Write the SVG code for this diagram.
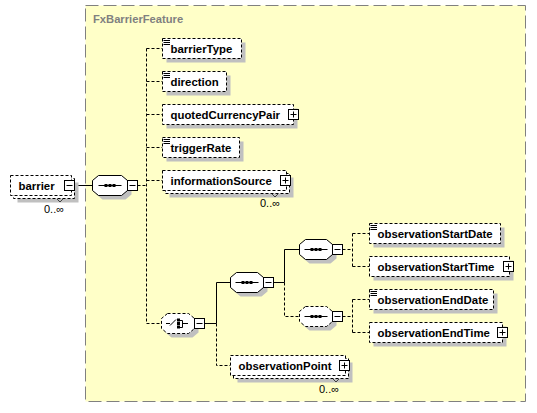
<svg xmlns="http://www.w3.org/2000/svg" width="537" height="413" viewBox="0 0 537 413">
<style>
.grp{fill:#ffffc8;stroke:#808080;stroke-width:1;stroke-dasharray:13 5}
.ttl{font-family:"Liberation Sans",Arial,sans-serif;font-weight:bold;font-size:11.2px;fill:#808080}
.el{fill:#fff;stroke:#000;stroke-dasharray:3 2}
.sh{fill:#c0c0c0}
.oct{fill:#fff;stroke:#000}
.octd{fill:#fff;stroke:#000;stroke-dasharray:3 2}
.pm{fill:#fff;stroke:#000}
.ln{fill:none;stroke:#000}
.t{font-family:"Liberation Sans",Arial,sans-serif;font-weight:bold;font-size:11.4px;fill:#000}
.occ{font-family:"Liberation Sans",Arial,sans-serif;font-size:11px;fill:#000}
.c{fill:none;stroke:#000}
.cd{fill:none;stroke:#000;stroke-dasharray:3 2}
.nt{fill:none;stroke:#404040}
.dot{fill:#000}
</style>
<defs>
<g id="minus"><rect class="pm" x="0" y="0" width="10" height="10"/><path class="ln" d="M2,5H8"/></g>
<g id="plus"><rect class="pm" x="0" y="0" width="10" height="10"/><path class="ln" d="M2,5H8M5,2V8"/></g>
<g id="simple"><rect x="0" y="0" width="7" height="7" fill="#fff"/><path class="ln" d="M0.5,1.5H7M0.5,3.5H7M0.5,5.5H7"/></g>
<g id="seqicon"><path class="ln" d="M0,0H23"/><rect class="dot" x="6" y="-1.5" width="3" height="3"/><rect class="dot" x="10" y="-1.5" width="3" height="3"/><rect class="dot" x="14" y="-1.5" width="3" height="3"/></g>
</defs>

<g id="FxBarrierFeature">
<rect class="grp" x="85.5" y="5.5" width="440" height="396"/>
<text class="ttl" x="93" y="23">FxBarrierFeature</text>
</g>

<g id="connectors">
<path class="c" d="M74.5,185.5H92.5"/>
<path class="cd" d="M137.5,185.5H146.5M146.5,48.5V323.5M146.5,48.5H162.5M146.5,81.5H162.5M146.5,114.5H162.5M146.5,147.5H162.5M146.5,180.5H162.5M146.5,323.5H161.5"/>
<path class="c" d="M204.5,323.5H216.5M216.5,282.5V323.5M216.5,282.5H230.5"/>
<path class="cd" d="M216.5,323.5V365.5H230.5"/>
<path class="c" d="M273.5,282.5H284.5M284.5,249.5V282.5M284.5,249.5H299.5"/>
<path class="cd" d="M284.5,282.5V316.5H299.5"/>
<path class="cd" d="M342.5,249.5H352.5M352.5,233.5V266.5M352.5,233.5H369.5M352.5,266.5H369.5"/>
<path class="cd" d="M342.5,316.5H352.5M352.5,299.5V332.5M352.5,299.5H369.5M352.5,332.5H369.5"/>
</g>

<g id="barrier">
<rect class="sh" x="17.5" y="182.5" width="61" height="20"/>
<rect class="el" x="13.5" y="178.5" width="61" height="20"/>
<rect class="el" x="10.5" y="175.5" width="61" height="20"/>
<text class="t" x="18.5" y="189.5">barrier</text>
<use href="#minus" x="64.5" y="180.5"/>
<path class="nt" d="M57,199L60,202L63,199"/>
<text class="occ" x="44" y="213">0..∞</text>
</g>

<g id="sequence1">
<path class="sh" d="M102.5,179.5H125.5L131.5,184.5V194.5L125.5,199.5H102.5L96.5,194.5V184.5Z"/>
<path class="oct" d="M98.5,175.5H121.5L127.5,180.5V190.5L121.5,195.5H98.5L92.5,190.5V180.5Z"/>
<use href="#seqicon" x="98.5" y="185.5"/>
<use href="#minus" x="127.5" y="180.5"/>
</g>

<g id="barrierType">
<rect class="sh" x="166.5" y="42.5" width="79" height="20"/>
<rect class="el" x="162.5" y="38.5" width="79" height="20"/>
<use href="#simple" x="163" y="39"/>
<text class="t" x="170.5" y="52.5">barrierType</text>
</g>

<g id="direction">
<rect class="sh" x="166.5" y="75.5" width="64" height="20"/>
<rect class="el" x="162.5" y="71.5" width="64" height="20"/>
<use href="#simple" x="163" y="72"/>
<text class="t" x="170.5" y="85.5">direction</text>
</g>

<g id="quotedCurrencyPair">
<rect class="sh" x="166.5" y="108.5" width="131" height="20"/>
<rect class="el" x="162.5" y="104.5" width="131" height="20"/>
<text class="t" x="170.5" y="118.5">quotedCurrencyPair</text>
<use href="#plus" x="288.5" y="109.5"/>
</g>

<g id="triggerRate">
<rect class="sh" x="166.5" y="141.5" width="77" height="20"/>
<rect class="el" x="162.5" y="137.5" width="77" height="20"/>
<use href="#simple" x="163" y="138"/>
<text class="t" x="170.5" y="151.5">triggerRate</text>
</g>

<g id="informationSource">
<rect class="sh" x="169.5" y="177.5" width="124" height="20"/>
<rect class="el" x="165.5" y="173.5" width="124" height="20"/>
<rect class="el" x="162.5" y="170.5" width="124" height="20"/>
<text class="t" x="170.5" y="184.5">informationSource</text>
<use href="#plus" x="280.5" y="175.5"/>
<path class="nt" d="M272,194L275,197L278,194"/>
<text class="occ" x="260" y="207">0..∞</text>
</g>

<g id="choice">
<path class="sh" d="M171.5,317.5H192.5L198.5,322.5V332.5L192.5,337.5H171.5L165.5,332.5V322.5Z"/>
<path class="octd" d="M167.5,313.5H188.5L194.5,318.5V328.5L188.5,333.5H167.5L161.5,328.5V318.5Z"/>
<path class="ln" d="M166,323.5H170M170,325.5L176,319.5M180,320.5H182.5V327.5H180M182.5,323.5H188"/>
<rect class="dot" x="177" y="318.5" width="3" height="3"/>
<rect class="dot" x="177" y="322" width="3" height="3"/>
<rect class="dot" x="177" y="325.5" width="3" height="3"/>
<use href="#minus" x="194.5" y="318.5"/>
</g>

<g id="sequence2">
<path class="sh" d="M240.5,276.5H261.5L267.5,281.5V291.5L261.5,296.5H240.5L234.5,291.5V281.5Z"/>
<path class="oct" d="M236.5,272.5H257.5L263.5,277.5V287.5L257.5,292.5H236.5L230.5,287.5V277.5Z"/>
<use href="#seqicon" x="235.5" y="282.5"/>
<use href="#minus" x="263.5" y="277.5"/>
</g>

<g id="sequence3">
<path class="sh" d="M309.5,243.5H330.5L336.5,248.5V258.5L330.5,263.5H309.5L303.5,258.5V248.5Z"/>
<path class="oct" d="M305.5,239.5H326.5L332.5,244.5V254.5L326.5,259.5H305.5L299.5,254.5V244.5Z"/>
<use href="#seqicon" x="304.5" y="249.5"/>
<use href="#minus" x="332.5" y="244.5"/>
</g>

<g id="sequence4">
<path class="sh" d="M309.5,310.5H330.5L336.5,315.5V325.5L330.5,330.5H309.5L303.5,325.5V315.5Z"/>
<path class="octd" d="M305.5,306.5H326.5L332.5,311.5V321.5L326.5,326.5H305.5L299.5,321.5V311.5Z"/>
<use href="#seqicon" x="304.5" y="316.5"/>
<use href="#minus" x="332.5" y="311.5"/>
</g>

<g id="observationStartDate">
<rect class="sh" x="373.5" y="227.5" width="131" height="20"/>
<rect class="el" x="369.5" y="223.5" width="131" height="20"/>
<use href="#simple" x="370" y="224"/>
<text class="t" x="377.5" y="237.5">observationStartDate</text>
</g>

<g id="observationStartTime">
<rect class="sh" x="373.5" y="260.5" width="140" height="20"/>
<rect class="el" x="369.5" y="256.5" width="140" height="20"/>
<text class="t" x="377.5" y="270.5">observationStartTime</text>
<use href="#plus" x="503.5" y="261.5"/>
</g>

<g id="observationEndDate">
<rect class="sh" x="373.5" y="293.5" width="124" height="20"/>
<rect class="el" x="369.5" y="289.5" width="124" height="20"/>
<use href="#simple" x="370" y="290"/>
<text class="t" x="377.5" y="303.5">observationEndDate</text>
</g>

<g id="observationEndTime">
<rect class="sh" x="373.5" y="326.5" width="133" height="20"/>
<rect class="el" x="369.5" y="322.5" width="133" height="20"/>
<text class="t" x="377.5" y="336.5">observationEndTime</text>
<use href="#plus" x="497.5" y="327.5"/>
</g>

<g id="observationPoint">
<rect class="sh" x="237.5" y="362.5" width="115" height="20"/>
<rect class="el" x="233.5" y="358.5" width="115" height="20"/>
<rect class="el" x="230.5" y="355.5" width="115" height="20"/>
<text class="t" x="238.5" y="369.5">observationPoint</text>
<use href="#plus" x="339.5" y="360.5"/>
<path class="nt" d="M333,379L336,382L339,379"/>
<text class="occ" x="319" y="393">0..∞</text>
</g>
</svg>
